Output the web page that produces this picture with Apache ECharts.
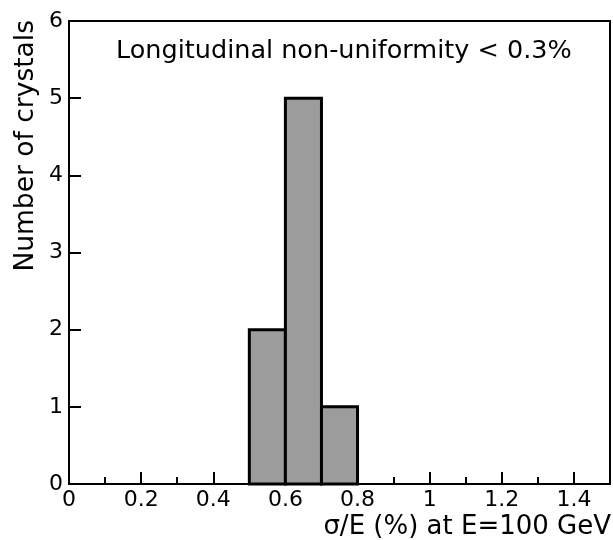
<!DOCTYPE html>
<html><head><meta charset="utf-8">
<script src="https://cdn.jsdelivr.net/npm/echarts@6/dist/echarts.min.js"></script>
<style>html,body{margin:0;padding:0;background:#fff}#c{width:613px;height:540px}</style>
</head><body><div id="c"></div>
<script>
const binLow = [0.5, 0.6, 0.7];
const binHigh = [0.6, 0.7, 0.8];
const counts = [2, 5, 1];
const titleText = 'Longitudinal non-uniformity < 0.3%';
const xName = 'σ/E (%) at E=100 GeV';
const yName = 'Number of crystals';

const FONT = 'DejaVu Sans';
const chart = echarts.init(document.getElementById('c'), null, {renderer: 'canvas'});
const data = binLow.map((l, i) => [l, binHigh[i], counts[i]]);
chart.setOption({
  animation: false,
  backgroundColor: '#fff',
  grid: {left: 69, right: 3, top: 21, bottom: 56, show: true, borderColor: '#000', borderWidth: 2, containLabel: false, outerBoundsMode: 'none'},
  title: {text: titleText, left: 111, top: 33, textStyle: {fontFamily: FONT, fontSize: 25.5, fontWeight: 'normal', color: '#000'}},
  xAxis: {
    type: 'value', min: 0, max: 1.5, interval: 0.2,
    axisLine: {lineStyle: {color: '#000', width: 2}},
    axisTick: {inside: true, length: 12, lineStyle: {color: '#000', width: 2}},
    minorTick: {show: true, splitNumber: 2, length: 7, lineStyle: {color: '#000', width: 2}},
    axisLabel: {showMaxLabel: false, margin: 5, fontFamily: FONT, fontSize: 22, color: '#000'},
    splitLine: {show: false}
  },
  yAxis: {
    type: 'value', min: 0, max: 6, interval: 1,
    axisLine: {lineStyle: {color: '#000', width: 2}},
    axisTick: {inside: true, length: 12, lineStyle: {color: '#000', width: 2}},
    axisLabel: {margin: 6, fontFamily: FONT, fontSize: 22, color: '#000'},
    splitLine: {show: false}
  },
  graphic: [{
    type: 'text', x: 26, y: 20, rotation: Math.PI / 2,
    style: {text: yName, fontFamily: FONT, fontSize: 26.5, fill: '#000', textAlign: 'right', textVerticalAlign: 'middle'}
  }, {
    type: 'text', x: 611, y: 514,
    style: {text: xName, fontFamily: FONT, fontSize: 26, fill: '#000', textAlign: 'right', textVerticalAlign: 'top'}
  }],
  series: [{
    type: 'custom',
    data: data,
    encode: {x: [0, 1], y: 2},
    renderItem: function (params, api) {
      const p0 = api.coord([api.value(0), api.value(2)]);
      const p1 = api.coord([api.value(1), 0]);
      return {
        type: 'rect',
        shape: {x: p0[0], y: p0[1], width: p1[0] - p0[0], height: p1[1] - p0[1]},
        style: {fill: '#9c9c9c', stroke: '#000', lineWidth: 3}
      };
    }
  }]
});
</script></body></html>
